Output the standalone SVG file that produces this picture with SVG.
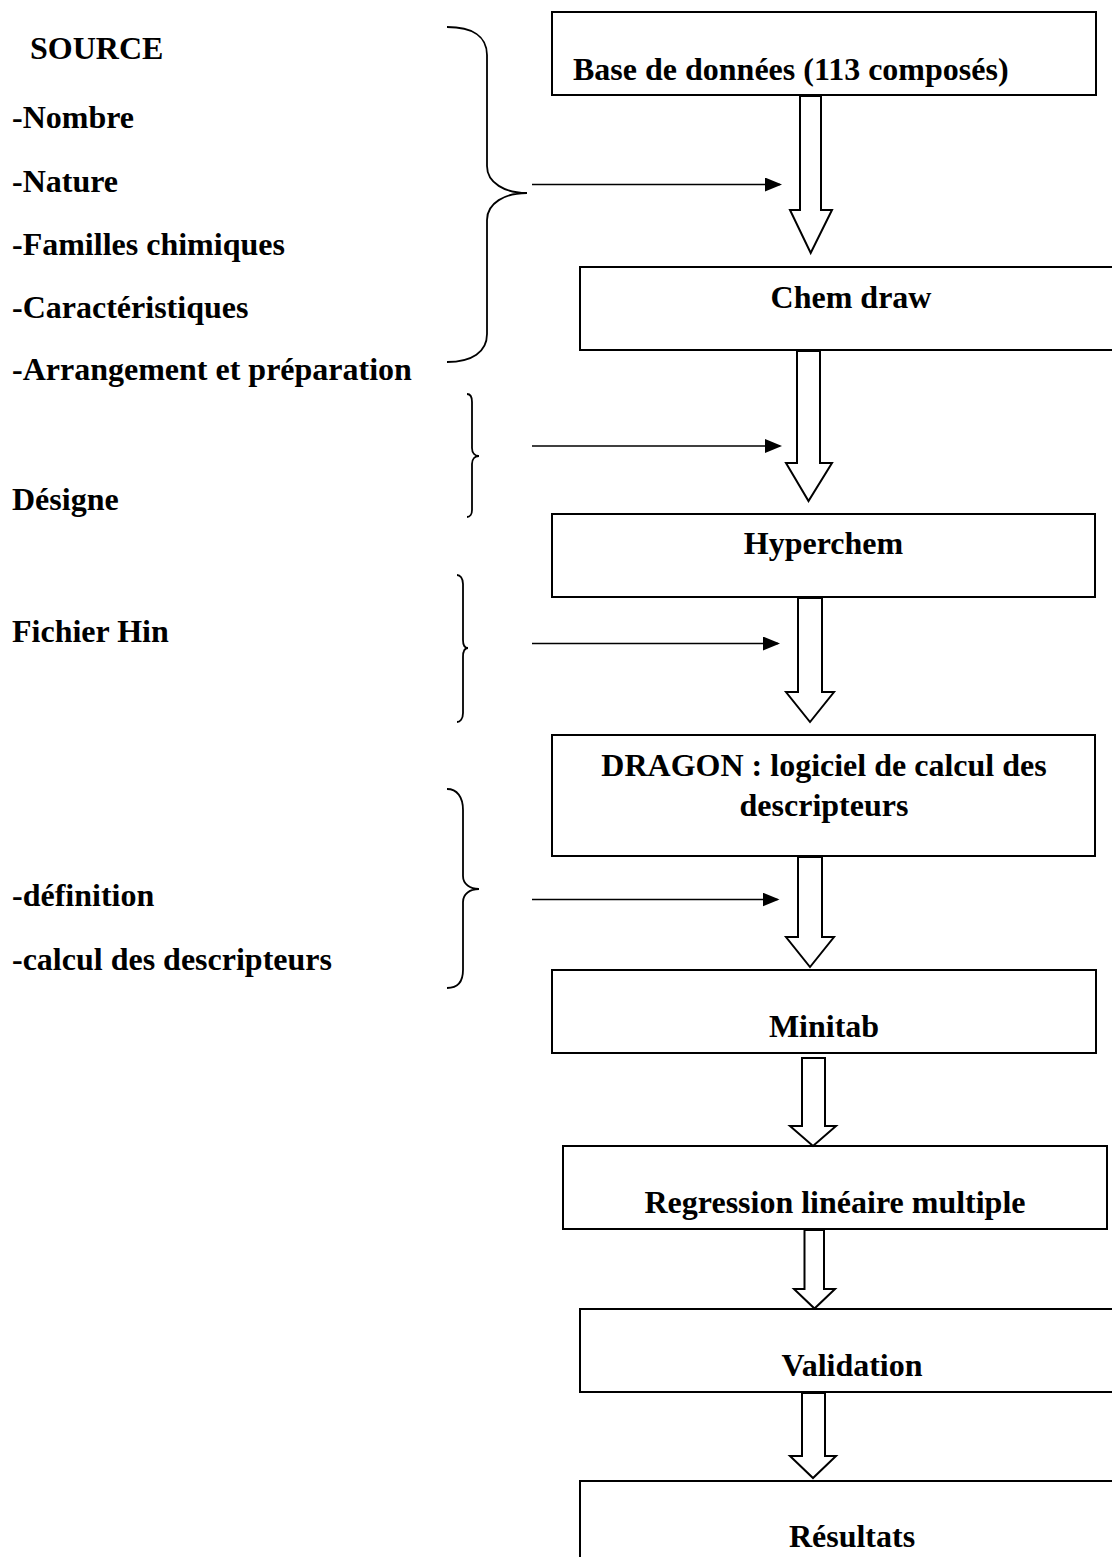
<svg xmlns="http://www.w3.org/2000/svg" width="1112" height="1557" viewBox="0 0 1112 1557">
  <style>
    .box { fill: #fff; stroke: #000; stroke-width: 2; }
    .t { font-family: "Liberation Serif", "Times New Roman", serif; font-weight: bold; font-size: 32px; fill: #000; }
    .c { text-anchor: middle; }
    .brace { fill: none; stroke: #000; stroke-width: 1.8; }
    .blk { fill: #fff; stroke: #000; stroke-width: 2; stroke-linejoin: miter; }
    .harrow { fill: none; stroke: #000; stroke-width: 1.6; marker-end: url(#ah); }
  </style>
  <defs>
    <marker id="ah" markerUnits="userSpaceOnUse" markerWidth="17" markerHeight="14" refX="15" refY="7" orient="auto">
      <path d="M0,0 L17,7 L0,14 z" fill="#000"/>
    </marker>
  </defs>
  <rect width="1112" height="1557" fill="#fff"/>

  <!-- left annotations -->
  <g id="source-list">
    <text class="t" x="30" y="59">SOURCE</text>
    <text class="t" x="12" y="128">-Nombre</text>
    <text class="t" x="12" y="192">-Nature</text>
    <text class="t" x="12" y="255">-Familles chimiques</text>
    <text class="t" x="12" y="318">-Caractéristiques</text>
    <text class="t" x="12" y="380">-Arrangement et préparation</text>
    <path class="brace" d="M447,27 C472,27 487,36 487,55 L487,166 C487,183 505,193 527,193 C505,193 487,203 487,220 L487,334 C487,352 472,362 447,362"/>
  </g>
  <g id="designe">
    <text class="t" x="12" y="510">Désigne</text>
    <path class="brace" d="M467,394 C470,394 472,397 472,402 L472,448 C472,453 475,456 479,456 C475,456 472,459 472,464 L472,510 C472,514 470,517 467,517"/>
  </g>
  <g id="fichier-hin">
    <text class="t" x="12" y="642">Fichier Hin</text>
    <path class="brace" d="M457,575 C460,575 463,578 463,584 L463,640 C463,645 465,648 468,648 C465,648 463,651 463,657 L463,713 C463,719 460,722 457,722"/>
  </g>
  <g id="descripteurs-list">
    <text class="t" x="12" y="906">-définition</text>
    <text class="t" x="12" y="970">-calcul des descripteurs</text>
    <path class="brace" d="M447,789 C457,789 463,797 463,810 L463,876 C463,884 470,889 479,889 C470,889 463,894 463,902 L463,970 C463,982 457,988 447,988"/>
  </g>

  <!-- nodes -->
  <g id="base-donnees">
    <rect class="box" x="552" y="12" width="544" height="83"/>
    <text class="t" x="573" y="80">Base de données (113 composés)</text>
  </g>
  <g id="chem-draw">
    <rect class="box" x="580" y="267" width="545" height="83"/>
    <text class="t c" x="851" y="308">Chem draw</text>
  </g>
  <g id="hyperchem">
    <rect class="box" x="552" y="514" width="543" height="83"/>
    <text class="t c" x="823.5" y="554">Hyperchem</text>
  </g>
  <g id="dragon">
    <rect class="box" x="552" y="735" width="543" height="121"/>
    <text class="t c" x="824" y="776">DRAGON : logiciel de calcul des</text>
    <text class="t c" x="824" y="816">descripteurs</text>
  </g>
  <g id="minitab">
    <rect class="box" x="552" y="970" width="544" height="83"/>
    <text class="t c" x="824" y="1037">Minitab</text>
  </g>
  <g id="regression">
    <rect class="box" x="563" y="1146" width="544" height="83"/>
    <text class="t c" x="835" y="1213">Regression linéaire multiple</text>
  </g>
  <g id="validation">
    <rect class="box" x="580" y="1309" width="545" height="83"/>
    <text class="t c" x="852" y="1376">Validation</text>
  </g>
  <g id="resultats">
    <rect class="box" x="580" y="1481" width="545" height="90"/>
    <text class="t c" x="852" y="1547">Résultats</text>
  </g>

  <!-- connectors -->
  <g id="connectors">
    <polygon class="blk" points="800,96 821,96 821,210 832,210 810.7,253 790,210 800,210"/>
    <polygon class="blk" points="797,351 820,351 820,463 832,463 808.5,501 786,463 797,463"/>
    <polygon class="blk" points="798,598 822,598 822,692 834,692 810,722 786,692 798,692"/>
    <polygon class="blk" points="798,857 822,857 822,937 834,937 810,967 786,937 798,937"/>
    <polygon class="blk" points="802,1058 825,1058 825,1126 836,1126 813,1146 790,1126 802,1126"/>
    <polygon class="blk" points="804.5,1230 824,1230 824,1289 835,1289 814.5,1308.5 794,1289 804.5,1289"/>
    <polygon class="blk" points="802,1393 825,1393 825,1456 836,1456 813,1478 790,1456 802,1456"/>
    <line class="harrow" x1="532" y1="184.5" x2="780" y2="184.5"/>
    <line class="harrow" x1="532" y1="446" x2="780" y2="446"/>
    <line class="harrow" x1="532" y1="643.5" x2="778" y2="643.5"/>
    <line class="harrow" x1="532" y1="899.5" x2="777.5" y2="899.5"/>
  </g>
</svg>
